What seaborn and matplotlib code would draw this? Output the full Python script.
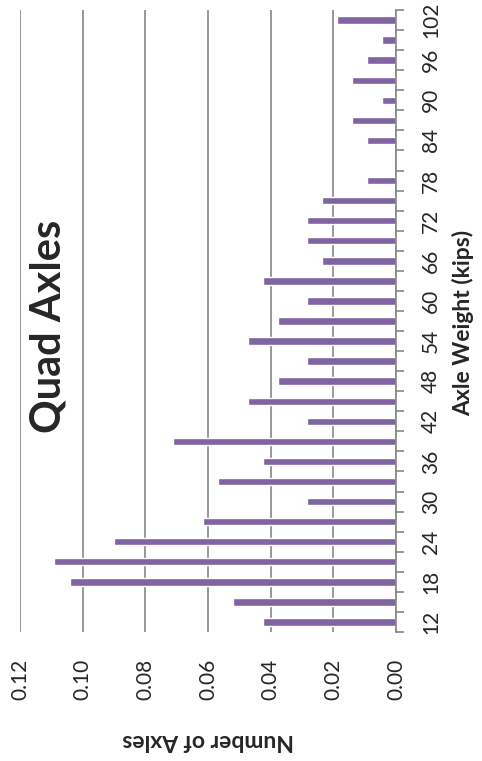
import numpy as np
import pandas as pd
import matplotlib.pyplot as plt
import seaborn as sns

# axle weight bins (kips) and share of quad axles in each
weights = list(range(12, 103, 3))
shares = [0.0424, 0.0519, 0.104, 0.109, 0.090, 0.0615, 0.0283, 0.0568, 0.0424, 0.0711,
          0.0283, 0.0472, 0.0378, 0.0283, 0.0472, 0.0378, 0.0283, 0.0424, 0.0235, 0.0283,
          0.0283, 0.0235, 0.0093, 0.0, 0.0093, 0.014, 0.0045, 0.014, 0.0093, 0.0045, 0.0187]
value_ticks = [0.0, 0.02, 0.04, 0.06, 0.08, 0.10, 0.12]
labeled = weights[::2]

sns.set_style("white")
plt.rcParams['font.family'] = ['Lato', 'DejaVu Sans']

df = pd.DataFrame({"weight": [str(w) for w in weights], "share": shares})
order = [str(w) for w in weights[::-1]]

W, H = 482, 761
fig = plt.figure(figsize=(W / 100, H / 100), dpi=100)
ax = fig.add_axes([20 / W, 129 / H, 376 / W, 622 / H])

sns.barplot(data=df, x="share", y="weight", order=order, orient="h",
            color="#8064A2", saturation=1, width=0.37, ax=ax)

ax.set_xlim(0.12, 0)
ax.set_ylim(len(weights) - 0.5, -0.5)
ax.set_xticks(value_ticks)
ax.set_xticklabels([f"{v:.2f}" for v in value_ticks], rotation=90, fontsize=15)
ax.xaxis.grid(True, color="#868686", lw=1.2)
ax.set_axisbelow(True)
ax.tick_params(axis="x", length=0, pad=19)

ax.yaxis.tick_right()
pos = [order.index(str(w)) for w in labeled]
ax.set_yticks(pos)
ax.set_yticklabels([str(w) for w in labeled], rotation=90, va="center", fontsize=15)
ax.set_yticks(np.arange(-0.5, len(weights), 1), minor=True)
ax.tick_params(axis="y", which="major", length=0, pad=18)
ax.tick_params(axis="y", which="minor", length=6, width=1.2, color="#868686", right=True, left=False)
ax.set_xlabel("")
ax.set_ylabel("")

for s in ["top", "left", "bottom"]:
    ax.spines[s].set_visible(False)
ax.spines["right"].set_color("#868686")
ax.spines["right"].set_linewidth(1.2)

fig.text(49 / W, 1 - 326 / H, "Quad Axles", rotation=90, ha="center", va="center",
         fontsize=30, fontweight="bold")
fig.text(463 / W, 1 - 323 / H, "Axle Weight (kips)", rotation=90, ha="center", va="center",
         fontsize=16.5, fontweight="bold")
fig.text(208 / W, 1 - 741 / H, "Number of Axles", rotation=180, ha="center", va="center",
         fontsize=16.5, fontweight="bold")

fig.savefig("out.png", dpi=100)
